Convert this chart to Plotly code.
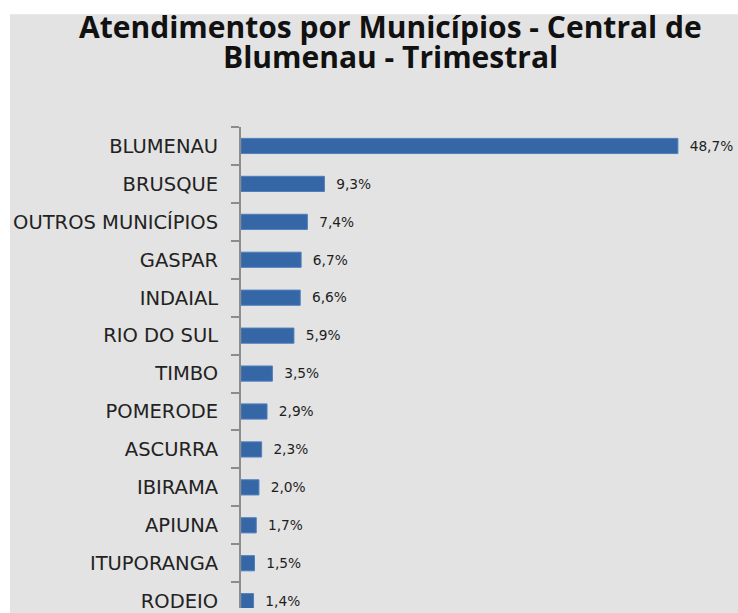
import plotly.graph_objects as go

categories = ["BLUMENAU", "BRUSQUE", "OUTROS MUNICÍPIOS", "GASPAR", "INDAIAL",
              "RIO DO SUL", "TIMBO", "POMERODE", "ASCURRA", "IBIRAMA",
              "APIUNA", "ITUPORANGA", "RODEIO"]
values = [48.7, 9.3, 7.4, 6.7, 6.6, 5.9, 3.5, 2.9, 2.3, 2.0, 1.7, 1.5, 1.4]
title_lines = ["Atendimentos por Municípios - Central de", "Blumenau - Trimestral"]

W, H = 738, 613
L, T = 241, 127
pw, ph = W - L, H - T

fig = go.Figure()
fig.add_trace(go.Bar(
    x=values, y=categories, orientation="h",
    width=0.4,
    marker=dict(color="#3566a6", line=dict(color="#4f7fbd", width=1)),
    texttemplate="\u00a0\u00a0%{x:.1f}%",
    textposition="outside",
    textfont=dict(family="DejaVu Sans", size=14.5, color="#1e1e1e"),
    cliponaxis=True,
    hoverinfo="skip",
))

title_font = dict(family="Open Sans", size=30, color="#111111", weight=700)
for line, ypx in zip(title_lines, [25, 55.5]):
    fig.add_annotation(
        text=line, showarrow=False,
        xref="paper", yref="paper",
        x=(390 - L) / pw, y=(H - ypx) / ph,
        xanchor="center", yanchor="middle",
        font=title_font,
    )

fig.update_layout(
    width=W, height=H,
    margin=dict(l=L, r=0, t=T, b=0, pad=0),
    paper_bgcolor="white",
    plot_bgcolor="rgba(0,0,0,0)",
    separators=",.",
    showlegend=False,
    shapes=[dict(
        type="rect", xref="paper", yref="paper",
        x0=(10 - L) / pw, x1=1.05, y0=-0.1, y1=(H - 13) / ph,
        fillcolor="#e3e3e3", line=dict(width=0), layer="below",
    )],
    xaxis=dict(visible=False, range=[0, 55.4], fixedrange=True),
    yaxis=dict(
        type="category", autorange=False, range=[12.18, -0.5],
        showline=True, linecolor="#8c8c8c", linewidth=2,
        ticks="outside", ticklen=8, tickwidth=1.5, tickcolor="#8c8c8c",
        tickson="boundaries", showgrid=False, zeroline=False,
        tickfont=dict(family="DejaVu Sans", size=19.5, color="#222222"),
        ticklabelstandoff=17, fixedrange=True,
    ),
)

fig.write_html(
    "out.html",
    config={"displayModeBar": False},
    post_script="document.body.style.margin='0';document.body.style.overflow='hidden';",
)
